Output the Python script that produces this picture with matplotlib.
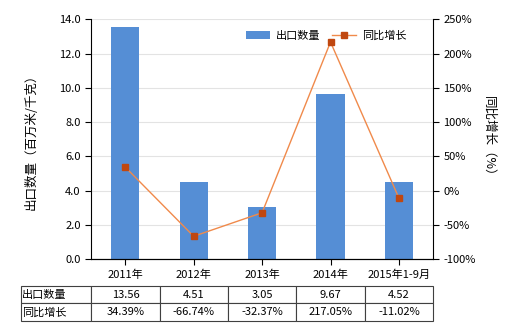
import matplotlib
matplotlib.use("Agg")
import matplotlib.pyplot as plt
import numpy as np

plt.rcParams['font.family'] = ['Noto Sans CJK SC', 'DejaVu Sans']

# dados
categorias = ["2011年", "2012年", "2013年", "2014年", "2015年1-9月"]
qtd = [13.56, 4.51, 3.05, 9.67, 4.52]
crescimento = [34.39, -66.74, -32.37, 217.05, -11.02]
qtd_txt = ["13.56", "4.51", "3.05", "9.67", "4.52"]
cresc_txt = ["34.39%", "-66.74%", "-32.37%", "217.05%", "-11.02%"]

fig = plt.figure(figsize=(5.2, 3.3), dpi=100)
ax = fig.add_axes([0.175, 0.215, 0.658, 0.726])
x = np.arange(len(categorias))

ax.bar(x, qtd, width=0.41, color='#558ED5', label='出口数量', zorder=2)
ax.set_xlim(-0.5, len(categorias) - 0.5)
ax.set_ylim(0, 14)
ax.set_yticks(np.arange(0, 14.1, 2))
ax.set_yticklabels([f"{v:.1f}" for v in np.arange(0, 14.1, 2)])
ax.set_xticks(x)
ax.set_xticklabels(categorias)
ax.grid(axis='y', color='#E3E3E3', lw=0.8, zorder=0)
ax.set_ylabel("出口数量（百万米/千克）", fontsize=9, labelpad=15)
ax.tick_params(labelsize=8, length=4)
for s in ['top', 'right']:
    ax.spines[s].set_visible(False)

ax2 = ax.twinx()
ax2.plot(x, crescimento, color='#F08A4B', lw=1, marker='s', ms=5,
         mfc='#C0470F', mec='#C0470F', label='同比增长', zorder=3)
ax2.set_ylim(-100, 250)
ax2.set_yticks(np.arange(-100, 251, 50))
ax2.set_yticklabels([f"{v}%" for v in range(-100, 251, 50)])
ax2.set_ylabel("同比增长（%）", fontsize=9, rotation=270, labelpad=14)
ax2.tick_params(labelsize=8, length=4)
for s in ['top', 'left']:
    ax2.spines[s].set_visible(False)

h1, l1 = ax.get_legend_handles_labels()
h2, l2 = ax2.get_legend_handles_labels()
ax2.legend(h1 + h2, l1 + l2, loc='upper right', bbox_to_anchor=(0.95, 0.995),
           ncol=2, frameon=False, fontsize=8, handlelength=2.2, numpoints=1,
           columnspacing=1.0, handletextpad=0.5)

# tabela
tab = ax.table(cellText=[["出口数量"] + qtd_txt, ["同比增长"] + cresc_txt],
               cellLoc='center', colWidths=[70] + [68] * 5,
               bbox=[-0.2047, -0.259, 1.2047, 0.148])
tab.auto_set_font_size(False)
tab.set_fontsize(8)
for (r, c), cell in tab.get_celld().items():
    cell.set_edgecolor('#404040')
    cell.set_linewidth(0.8)
    if c == 0:
        cell.set_text_props(ha='left')
        cell.PAD = 0.02

fig.savefig("out.png", dpi=100)
